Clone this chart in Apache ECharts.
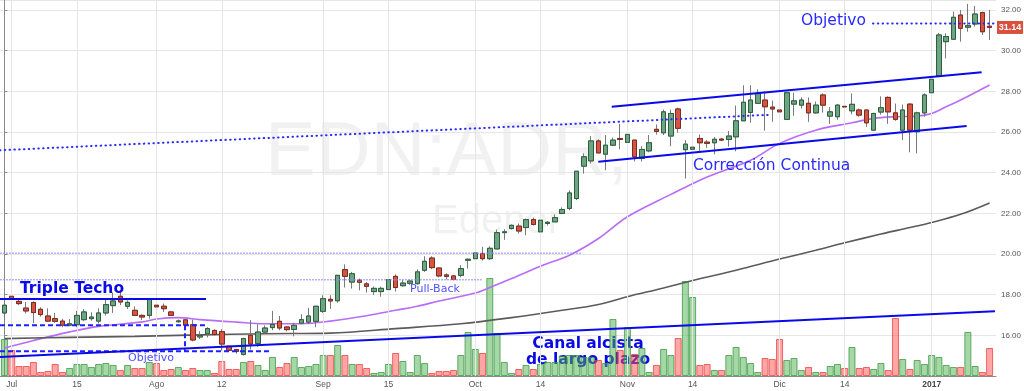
<!DOCTYPE html>
<html><head><meta charset="utf-8">
<script src="https://cdn.jsdelivr.net/npm/echarts@6/dist/echarts.min.js"></script>
<style>html,body{margin:0;padding:0;background:#fff}#c{width:1024px;height:391px}</style>
</head><body><div id="c"></div>
<script>
// ---- data (EDN:ADR daily, 30 Jun 2016 - 13 Jan 2017) ----
const dates = ['2016-06-30',
'07-01','07-05','07-06','07-07','07-08','07-11','07-12','07-13','07-14','07-15','07-18','07-19','07-20','07-21','07-22','07-25','07-26','07-27','07-28','07-29',
'08-01','08-02','08-03','08-04','08-05','08-08','08-09','08-10','08-11','08-12','08-15','08-16','08-17','08-18','08-19','08-22','08-23','08-24','08-25','08-26','08-29','08-30','08-31',
'09-01','09-02','09-06','09-07','09-08','09-09','09-12','09-13','09-14','09-15','09-16','09-19','09-20','09-21','09-22','09-23','09-26','09-27','09-28','09-29','09-30',
'10-03','10-04','10-05','10-06','10-07','10-10','10-11','10-12','10-13','10-14','10-17','10-18','10-19','10-20','10-21','10-24','10-25','10-26','10-27','10-28','10-31',
'11-01','11-02','11-03','11-04','11-07','11-08','11-09','11-10','11-11','11-14','11-15','11-16','11-17','11-18','11-21','11-22','11-23','11-25','11-28','11-29','11-30',
'12-01','12-02','12-05','12-06','12-07','12-08','12-09','12-12','12-13','12-14','12-15','12-16','12-19','12-20','12-21','12-22','12-23','12-27','12-28','12-29','12-30',
'2017-01-03','01-04','01-05','01-06','01-09','01-10','01-11','01-12','01-13'];
const open = [17.10,17.92,17.67,17.34,17.61,17.28,16.95,16.82,16.70,16.50,
16.52,16.77,16.82,16.70,17.10,17.46,17.92,17.43,17.23,16.98,
16.98,17.48,17.43,17.15,16.67,16.76,16.52,15.92,16.08,16.24,
16.18,15.46,15.30,15.06,16.00,15.60,16.16,16.38,16.69,16.41,
16.29,16.60,16.65,16.69,17.18,17.77,17.70,19.23,18.62,18.71,
18.53,18.15,18.15,18.25,18.90,18.44,18.56,18.54,19.20,19.80,
19.31,18.97,18.92,18.95,19.69,19.77,20.02,19.77,20.25,21.05,
21.25,21.37,21.30,21.69,21.09,21.50,21.58,21.99,22.24,22.73,
24.32,24.58,25.56,24.91,25.35,25.68,25.49,25.60,24.70,25.07,
26.13,25.96,25.80,27.13,25.13,25.15,25.68,25.50,25.47,25.65,
25.63,25.76,26.55,26.96,27.41,27.57,27.22,27.08,26.62,27.37,
27.32,27.41,26.94,27.82,26.78,26.75,27.26,27.04,27.08,27.08,
26.09,26.98,27.70,26.94,26.09,27.37,26.01,26.94,27.93,28.75,
30.44,30.56,31.75,31.15,31.31,31.87,31.20];
const close = [17.48,17.77,17.56,17.20,17.12,17.02,16.70,16.69,16.50,16.57,
16.98,17.15,16.90,17.10,17.51,17.69,17.64,17.62,16.98,16.90,
17.76,17.40,17.31,16.98,16.71,16.50,15.77,16.00,16.33,16.04,
15.57,15.26,15.21,15.84,15.57,16.16,16.36,16.54,16.36,16.28,
16.49,16.77,16.95,17.43,17.80,17.69,18.95,18.90,19.03,18.61,
18.41,18.31,18.31,18.74,18.35,18.57,18.67,19.12,19.64,19.33,
18.92,18.90,18.75,19.28,19.74,20.05,19.77,20.28,21.05,21.09,
21.41,21.13,21.69,21.45,21.66,21.56,21.79,22.19,23.00,24.07,
24.78,25.56,24.97,25.35,25.60,25.63,25.88,24.78,25.14,25.47,
26.03,26.99,26.91,26.18,25.40,25.25,25.47,25.44,25.64,25.60,
25.80,26.55,27.46,27.57,27.90,27.24,27.13,26.99,27.93,27.53,
27.57,26.94,27.32,27.32,26.99,27.32,27.23,27.36,26.83,26.45,
26.91,27.19,26.99,26.62,27.08,26.09,26.94,27.82,28.59,30.77,
30.69,31.64,31.10,31.23,31.80,30.93,31.14];
const high = [17.77,18.08,17.80,17.64,17.67,17.38,17.33,17.10,16.82,16.80,
17.20,17.30,17.13,17.33,17.80,18.10,18.15,17.72,17.42,17.03,
17.76,17.56,17.56,17.20,16.78,16.78,16.77,16.20,16.40,16.30,
16.30,15.50,15.33,15.88,16.75,16.55,16.49,17.20,16.95,16.45,
16.62,17.04,17.35,17.43,17.97,17.97,18.95,19.49,19.12,18.79,
18.62,18.40,18.40,18.84,19.00,18.72,18.75,19.24,19.89,19.89,
19.31,19.05,18.97,19.45,19.78,20.38,20.35,20.38,21.20,21.22,
21.45,21.50,21.74,21.79,21.96,21.62,21.95,22.29,23.13,24.07,
24.95,25.80,25.64,25.85,25.72,26.40,26.40,25.60,25.30,25.85,
26.37,27.10,27.10,27.20,25.60,25.60,25.87,25.60,25.75,25.70,
26.05,27.30,28.30,28.30,28.10,28.00,27.55,27.55,27.93,27.93,
27.70,27.70,27.50,27.90,27.23,27.37,27.30,27.90,27.15,27.08,
26.95,27.75,27.75,27.40,27.35,27.40,27.00,27.90,28.81,30.87,
30.85,31.92,32.00,32.30,32.20,31.92,32.00];
const low = [16.74,17.72,17.48,17.07,16.60,16.92,16.65,16.62,16.40,16.45,
16.40,16.70,16.72,16.58,16.98,17.10,17.48,17.30,16.95,16.75,
16.82,17.07,17.15,16.95,16.62,16.40,15.70,15.82,15.90,16.00,
15.25,15.20,15.10,15.00,15.30,15.42,16.08,16.25,16.25,16.20,
15.95,16.55,16.55,16.40,17.10,17.30,17.60,18.35,18.30,18.21,
18.10,17.99,17.90,18.05,18.15,18.40,18.48,18.50,19.12,19.25,
18.85,18.75,18.70,18.85,19.28,19.75,19.67,19.70,20.25,20.70,
21.20,21.00,20.92,21.40,21.09,21.40,21.58,21.99,22.15,22.65,
23.95,24.45,24.97,24.12,25.30,25.15,24.60,24.55,24.55,25.00,
25.87,25.85,25.30,25.97,23.71,24.70,25.05,25.22,24.90,25.55,
25.28,25.05,26.55,26.45,27.41,26.06,26.50,26.38,26.62,26.80,
27.15,26.50,26.90,26.95,26.40,26.60,27.18,26.87,26.75,26.25,
26.05,26.85,26.40,26.55,25.60,25.00,24.95,26.75,27.50,28.70,
29.62,30.52,30.44,30.93,31.18,30.77,30.52];
// volume (thousand shares)
const volume = [37,26,10,10,14,4,5,12,4,8,
12,12,9,12,13,11,6,11,8,8,
14,13,6,7,9,6,8,6,6,3,
15,7,7,14,15,11,6,19,9,13,
19,9,10,12,21,21,31,21,12,12,
8,3,4,12,23,15,4,21,13,3,
5,5,6,21,44,27,23,98,43,14,
3,7,11,7,12,14,14,20,21,21,
19,19,16,13,57,26,49,22,28,4,
11,27,21,38,95,79,11,12,6,6,
21,29,19,13,4,18,17,37,16,18,
6,9,4,4,10,12,8,29,8,9,
7,13,6,58,17,7,16,12,21,19,
11,9,9,44,10,4,28];
// moving averages: [day index, value]
const maPurple = [[0,15.38],[4,15.75],[9,16.17],[13,16.44],[19,16.66],[21,16.80],[24,16.87],[27,16.77],[32,16.65],[36,16.57],[41,16.57],[45,16.70],[50,16.96],[54,17.23],[57,17.43],[60,17.69],[65,18.08],[67,18.35],[70,18.79],[74,19.40],[78,19.94],[82,20.76],[86,21.83],[92,22.93],[97,23.79],[103,24.61],[107,25.44],[112,26.09],[117,26.45],[120,26.67],[123,26.75],[126,26.78],[128,26.91],[130,27.24],[132,27.57],[136,28.31]];
const maGray = [[0,15.84],[9,15.90],[18,15.95],[27,16.02],[36,16.08],[45,16.11],[54,16.33],[63,16.57],[70,16.87],[77,17.23],[82,17.52],[86,17.90],[91,18.33],[95,18.70],[101,19.20],[107,19.75],[112,20.18],[116,20.55],[121,20.98],[125,21.30],[128,21.55],[132,21.95],[136,22.51]];
// x-axis ticks
const tickIdx = [1,10,21,30,44,53,65,74,86,95,107,116,128];
const tickText = ['Jul','15','Ago','12','Sep','15','Oct','14','Nov','14','Dic','14','2017'];
// drawn annotation lines: [day index, price]
const tripleTop   = [[-0.62,17.79],[27.82,17.79]];
const targetTop   = [[-0.62,16.49],[27.92,16.49]];
const targetDrop  = [[24.92,16.49],[24.92,15.22]];
const targetLow   = [[-0.62,15.22],[36.89,15.22]];
const level20     = [[-0.62,20.04],[79.73,20.04]];
const level1873   = [[-0.62,18.73],[65.88,18.73]];
const longChannel = [[-0.62,14.93],[136.74,17.19]];
const risingDots  = [[-0.62,25.10],[105.95,26.85]];
const chanUpper   = [[83.83,27.24],[134.90,28.94]];
const chanLower   = [[81.98,24.53],[132.83,26.29]];
const objective   = [[119.9,31.34],[136.74,31.34]];

const N = open.length;
const up = i => close[i] >= open[i];
const candleFull = open.map((o,i)=>[i,o,close[i],low[i],high[i]]);
const candleBody = open.map((o,i)=>[i,o,close[i],Math.min(o,close[i]),Math.max(o,close[i])]);
const volData = volume.map((v,i)=>({value:[i,v], itemStyle: up(i)
  ? {color:'rgba(76,175,80,0.5)', borderColor:'rgba(56,150,60,0.75)', borderWidth:1}
  : {color:'rgba(255,80,80,0.5)', borderColor:'rgba(235,60,60,0.75)', borderWidth:1}}));

const BLUE='#0a0ae8';
function seg(pts, ls, z){ return {type:'line', data:pts, symbol:'none', showSymbol:false, silent:true, z:z||6, lineStyle:ls, animation:false}; }

const chart = echarts.init(document.getElementById('c'), null, {renderer:'canvas'});
chart.setOption({
  animation:false,
  backgroundColor:'#ffffff',
  grid:{left:0, right:28, top:0, bottom:15, containLabel:false},
  xAxis:{type:'value', min:-0.616, max:136.88,
    axisLine:{show:true, lineStyle:{color:'#8a8a8a', width:1}},
    axisTick:{show:false},
    splitLine:{show:false},
    axisLabel:{customValues:tickIdx, margin:4, color:'#555', fontSize:8.5, fontFamily:'Liberation Sans, Arial',
      formatter:v=>{const t=tickText[tickIdx.indexOf(Math.round(v))]||''; return /^\d{4}$/.test(t)?'{b|'+t+'}':t;},
      rich:{b:{fontWeight:'bold', fontSize:8.5, color:'#444', fontFamily:'Liberation Sans, Arial'}}}
  },
  yAxis:[
    {type:'value', position:'right', min:14, max:32.49, interval:2,
      axisLine:{show:true, lineStyle:{color:'#8a8a8a', width:1}},
      axisTick:{show:true, length:3, lineStyle:{color:'#8a8a8a'}},
      splitLine:{show:true, lineStyle:{color:'#e6e6e6', width:1}},
      axisLabel:{formatter:v=>v.toFixed(2), color:'#555', fontSize:8, margin:5, fontFamily:'Liberation Sans, Arial', showMinLabel:false, showMaxLabel:false}},
    {type:'value', min:0, max:376, show:false, splitLine:{show:false}}
  ],
  series:[
    {type:'line', data:[], z:0, silent:true,
      markLine:{silent:true, symbol:['none','none'], label:{show:false}, animation:false,
        lineStyle:{color:'#e6e6e6', width:1, type:'solid'}, emphasis:{disabled:true},
        data:tickIdx.map(v=>({xAxis:v}))}},
    {type:'bar', name:'Volumen', yAxisIndex:1, data:volData, barWidth:7, z:1, silent:true},
    {type:'line', name:'MA rápida', data:maPurple, symbol:'none', smooth:0.35, z:3, silent:true, lineStyle:{color:'#b86cf8', width:1.6}},
    {type:'line', name:'MA lenta', data:maGray, symbol:'none', smooth:0.35, z:3, silent:true, lineStyle:{color:'#5b5b5b', width:1.6}},
    {type:'candlestick', name:'wick', data:candleFull, encode:{x:0, y:[1,2,3,4]}, barWidth:5, z:4, silent:true,
      itemStyle:{color:'#6ba583', color0:'#d75442', borderColor:'#7a7a7a', borderColor0:'#7a7a7a', borderWidth:1}},
    {type:'candlestick', name:'EDN', data:candleBody, encode:{x:0, y:[1,2,3,4]}, barWidth:5, z:5, silent:true,
      itemStyle:{color:'#6ba583', color0:'#d75442', borderColor:'#2f5e3c', borderColor0:'#7e2a1e', borderWidth:1}},
    seg(tripleTop,  {color:BLUE, width:2}),
    seg(targetTop,  {color:'#1e1eff', width:2, type:[5,3]}),
    seg(targetDrop, {color:'#1e1eff', width:2, type:[5,3]}),
    seg(targetLow,  {color:'#1e1eff', width:2, type:[5,3]}),
    seg(level20,    {color:'#8c8cff', width:1, type:[2,1]}),
    seg(level1873,  {color:'#8c8cff', width:1, type:[2,1]}),
    seg(longChannel,{color:BLUE, width:2}),
    seg(risingDots, {color:'#2a2aff', width:2, type:[0.5,4.3], cap:'round'}),
    seg(chanUpper,  {color:BLUE, width:2}),
    seg(chanLower,  {color:BLUE, width:2}),
    seg(objective,  {color:'#2a2aff', width:2, type:[0.5,4.3], cap:'round'})
  ]
});

// last-price tag on the price scale, placed through the axis scale
const lastY = chart.convertToPixel({yAxisIndex:0}, close[N-1]);
const axisX = chart.convertToPixel({xAxisIndex:0}, 136.88);
chart.setOption({
  graphic:{elements:[
    {type:'text', x:265, y:154, z:-5, silent:true, style:{text:'EDN:ADR,', fontSize:76, fontFamily:'Liberation Sans, Arial', fill:'rgba(0,0,0,0.055)', verticalAlign:'middle'}},
    {type:'text', x:432, y:222, z:-5, silent:true, style:{text:'Edenor', fontSize:40, fontFamily:'Liberation Sans, Arial', fill:'rgba(0,0,0,0.055)', verticalAlign:'middle'}},
    {type:'text', x:20, y:289, z:20, silent:true, style:{text:'Triple Techo', fontSize:15.5, fontWeight:'bold', fontFamily:'DejaVu Sans', fill:BLUE, verticalAlign:'middle'}},
    {type:'text', x:128, y:358, z:20, silent:true, style:{text:'Objetivo', fontSize:11, fontFamily:'DejaVu Sans', fill:'#5050ff', verticalAlign:'middle'}},
    {type:'text', x:410, y:289, z:20, silent:true, style:{text:'Pull-Back', fontSize:11, fontFamily:'DejaVu Sans', fill:'#5050ff', verticalAlign:'middle'}},
    {type:'text', x:588, y:344, z:0, silent:true, style:{text:'Canal alcista', fontSize:15.5, fontWeight:'bold', fontFamily:'DejaVu Sans', fill:BLUE, align:'center', verticalAlign:'middle'}},
    {type:'text', x:588, y:359.5, z:0, silent:true, style:{text:'de largo plazo', fontSize:15.5, fontWeight:'bold', fontFamily:'DejaVu Sans', fill:BLUE, align:'center', verticalAlign:'middle'}},
    {type:'text', x:693, y:166, z:20, silent:true, style:{text:'Corrección Continua', fontSize:15.5, fontFamily:'DejaVu Sans', fill:'#2a2aff', verticalAlign:'middle'}},
    {type:'text', x:801, y:21, z:20, silent:true, style:{text:'Objetivo', fontSize:15.5, fontFamily:'DejaVu Sans', fill:'#2a2aff', verticalAlign:'middle'}},
    {type:'rect', z:30, silent:true, shape:{x:axisX+1, y:lastY-6.5, width:26, height:13}, style:{fill:'#d9503f'}},
    {type:'text', z:31, silent:true, x:axisX+14, y:lastY, style:{text:close[N-1].toFixed(2), fontSize:9, fontWeight:'bold', fontFamily:'Liberation Sans, Arial', fill:'#ffffff', align:'center', verticalAlign:'middle'}}
  ]}
});
</script>
</body></html>
